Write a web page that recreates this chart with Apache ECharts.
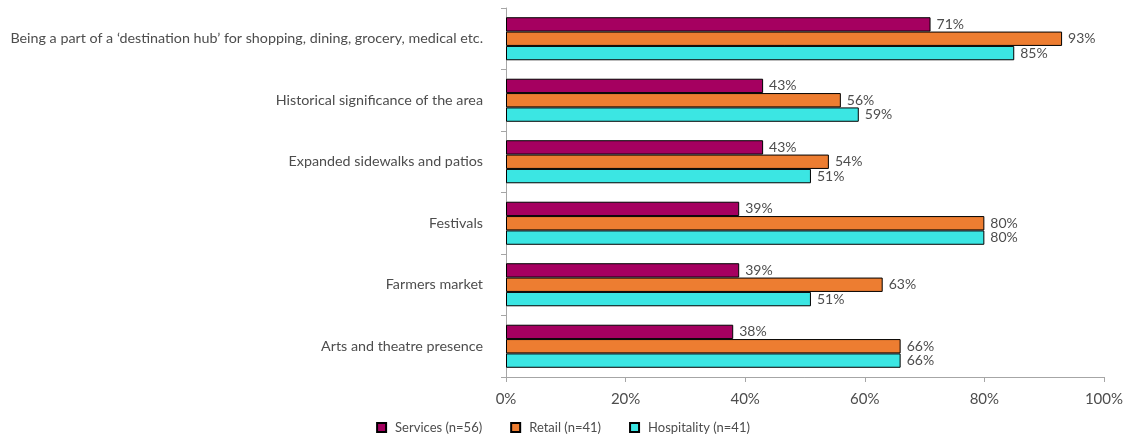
<!DOCTYPE html>
<html>
<head>
<meta charset="utf-8">
<script src="https://cdn.jsdelivr.net/npm/echarts@6/dist/echarts.min.js"></script>
<style>
  html, body { margin: 0; padding: 0; background: #ffffff; }
  #chart { width: 1126px; height: 437px; }
</style>
</head>
<body>
<div id="chart"></div>
<script>
// Attribute categories, top to bottom
const categories = [
  'Being a part of a \u2018destination hub\u2019 for shopping, dining, grocery, medical etc.',
  'Historical significance of the area',
  'Expanded sidewalks and patios',
  'Festivals',
  'Farmers market',
  'Arts and theatre presence'
];

// Share of respondents (%) per business type
const services = [71, 43, 43, 39, 39, 38];
const retail = [93, 56, 54, 80, 63, 66];
const hospitality = [85, 59, 51, 80, 51, 66];

const seriesNames = ['Services (n=56)', 'Retail (n=41)', 'Hospitality (n=41)'];
const seriesColors = ['#A50060', '#ED7D31', '#3BE6E3'];
const seriesValues = [services, retail, hospitality];

// X axis ticks
const xTicks = [0, 20, 40, 60, 80, 100];

const font = 'Lato, "Open Sans", sans-serif';
const textColor = '#4d4d4d';

const chart = echarts.init(document.getElementById('chart'), null, { renderer: 'canvas' });

chart.setOption({
  animation: false,
  textStyle: { fontFamily: font },
  grid: { left: 506, right: 22, top: 8, bottom: 60, containLabel: false },
  legend: {
    top: 416,
    left: 'center',
    itemWidth: 9,
    itemHeight: 9,
    itemGap: 28,
    icon: 'rect',
    textStyle: { fontFamily: font, fontSize: 13, color: textColor, padding: [0, 0, 0, 4] },
    data: seriesNames
  },
  xAxis: {
    type: 'value',
    min: xTicks[0],
    max: xTicks[xTicks.length - 1],
    interval: 20,
    splitLine: { show: false },
    axisLine: { show: true, lineStyle: { color: '#A6A6A6' } },
    axisTick: { show: true, inside: false, length: 5, lineStyle: { color: '#A6A6A6' } },
    axisLabel: {
      fontFamily: font, fontSize: 15, color: textColor, margin: 15,
      formatter: v => v + '%'
    }
  },
  yAxis: {
    type: 'category',
    inverse: true,
    data: categories,
    axisLine: { show: true, lineStyle: { color: '#A6A6A6' } },
    axisTick: { show: true, length: 5, lineStyle: { color: '#A6A6A6' } },
    axisLabel: { fontFamily: font, fontSize: 14.3, color: textColor, margin: 23 }
  },
  series: seriesNames.map((name, i) => ({
    name: name,
    type: 'bar',
    data: seriesValues[i],
    barGap: '0%',
    barCategoryGap: '30%',
    itemStyle: { color: seriesColors[i], borderColor: '#000000', borderWidth: 1 },
    label: {
      show: true,
      position: 'right',
      distance: 6,
      fontFamily: font,
      fontSize: 14,
      color: textColor,
      formatter: p => p.value + '%'
    }
  }))
});
</script>
</body>
</html>
